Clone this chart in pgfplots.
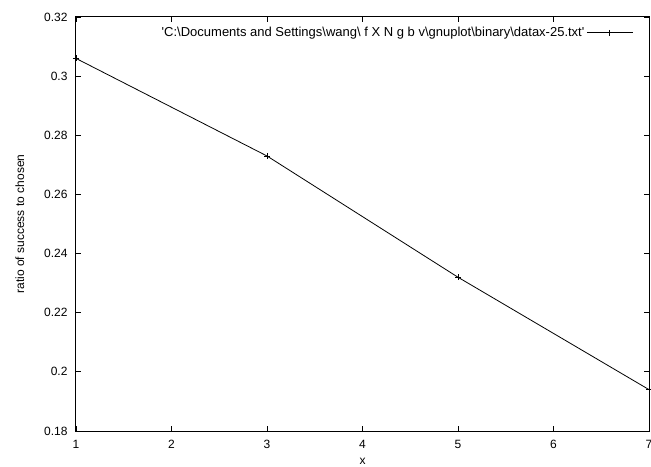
\documentclass[border=0pt]{standalone}
\usepackage{fontspec}
\setmainfont{Liberation Sans}[Ligatures=TeXOff]
\usepackage{pgfplots}
\pgfplotsset{compat=1.18}
\begin{document}
\begin{tikzpicture}
\begin{axis}[
	scale only axis,
	width=573pt,
	height=414pt,
	xmin=1, xmax=7,
	ymin=0.18, ymax=0.32,
	xtick={1,2,...,7},
	ytick={0.18,0.2,0.22,0.24,0.26,0.28,0.3,0.32},
	tick align=inside,
	major tick length=5pt,
	axis line style={line width=1pt},
	every tick/.style={black, line width=0.8pt},
	tick label style={font=\fontsize{12}{14}\selectfont},
	xticklabel style={yshift=-6pt},
	yticklabel style={xshift=-5pt},
	label style={font=\fontsize{12}{14}\selectfont},
	/pgf/number format/assume math mode=true,
	xlabel={x},
	ylabel={ratio of success to chosen},
	xlabel style={at={(axis description cs:0.5,-0.073)}, anchor=center},
	ylabel style={at={(axis description cs:-0.098,0.5)}, anchor=center},
	legend style={draw=none, fill=none, at={(0.978,0.985)}, anchor=north east,
		font=\fontsize{13}{15}\selectfont},
	legend cell align=right,
	legend plot pos=right,
	legend image code/.code={\draw[#1, mark repeat=2, mark phase=2] plot coordinates {(0pt,0pt) (23pt,0pt) (46pt,0pt)};},
]
\addplot[black, line width=0.8pt, mark=+, mark size=3pt] coordinates {
	(1,0.306) (3,0.273) (5,0.232) (7,0.194)
};
\legend{'C:\textbackslash Documents and Settings\textbackslash wang\textbackslash\ f X N g b v\textbackslash gnuplot\textbackslash binary\textbackslash datax-25.txt'}
\end{axis}
\pgfresetboundingbox
\path ([xshift=-76pt,yshift=-35pt]current axis.south west) rectangle ([xshift=2pt,yshift=17pt]current axis.north east);
\end{tikzpicture}
\end{document}
